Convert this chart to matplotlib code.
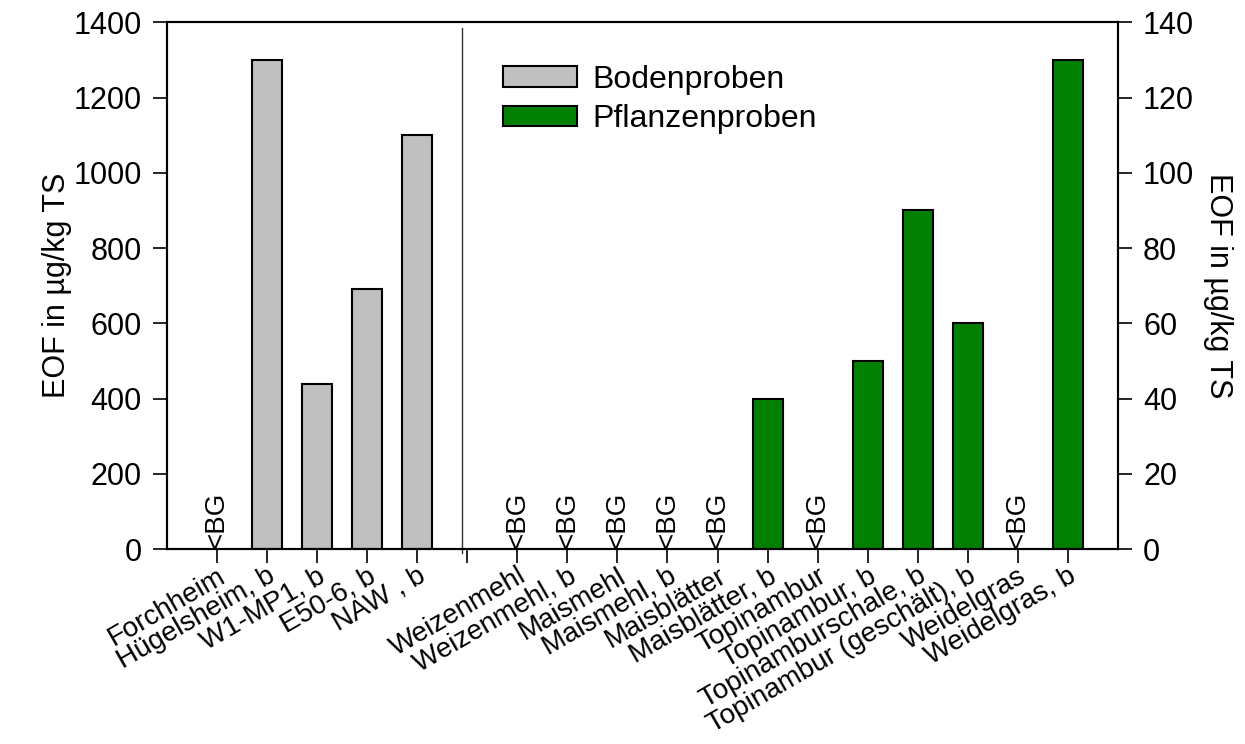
import numpy as np
import matplotlib.pyplot as plt

plt.rcParams['font.family'] = ['Liberation Sans', 'DejaVu Sans']

# Bodenproben (linke Achse) und Pflanzenproben (rechte Achse); None = <BG
boden_namen = ['Forchheim', 'Hügelsheim, b', 'W1-MP1, b', 'E50-6, b', 'NAW , b']
boden_werte = [None, 1300, 440, 690, 1100]

pflanzen_namen = ['Weizenmehl', 'Weizenmehl, b', 'Maismehl', 'Maismehl, b',
                  'Maisblätter', 'Maisblätter, b', 'Topinambur', 'Topinambur, b',
                  'Topinamburschale, b', 'Topinambur (geschält), b',
                  'Weidelgras', 'Weidelgras, b']
pflanzen_werte = [None, None, None, None, None, 40, None, 50, 90, 60, None, 130]

x_boden = np.arange(len(boden_namen))
x_pflanzen = np.arange(len(pflanzen_namen)) + len(boden_namen) + 1

fig = plt.figure(figsize=(12.45, 7.44), dpi=100)
ax = fig.add_axes([0.134, 0.262, 0.764, 0.708])
ax2 = ax.twinx()

def balken(achse, xs, werte, farbe, name):
    hs = [np.nan if w is None else w for w in werte]
    achse.bar(xs, hs, width=0.6, color=farbe, edgecolor='black', linewidth=1.5, label=name)
    for xi, w in zip(xs, werte):
        if w is None:
            achse.text(xi, 0.002 * achse.get_ylim()[1], '<BG',
                       rotation=90, ha='center', va='bottom', fontsize=20)

ax.set_ylim(0, 1400)
ax2.set_ylim(0, 140)
balken(ax, x_boden, boden_werte, '#c0c0c0', 'Bodenproben')
balken(ax2, x_pflanzen, pflanzen_werte, '#008000', 'Pflanzenproben')

ax.set_xlim(-1, 18)
ticks = list(x_boden) + [len(boden_namen)] + list(x_pflanzen)
labels = boden_namen + [''] + pflanzen_namen
ax.set_xticks(ticks)
ax.set_xticklabels(labels, rotation=30, ha='right', rotation_mode='anchor', fontsize=20)

# Trennlinie zwischen Boden- und Pflanzenproben
ax.axvline(4.9, ymin=-0.008, ymax=0.99, color='#333333', linewidth=1, clip_on=False)

ax.set_yticks(np.arange(0, 1401, 200))
ax2.set_yticks(np.arange(0, 141, 20))
ax.tick_params(axis='y', labelsize=22, length=10, width=1.2, direction='out', pad=8)
ax2.tick_params(axis='y', labelsize=22, length=10, width=1.2, direction='out', pad=8)
ax.tick_params(axis='x', length=10, width=1.2, direction='out', pad=0)
for a in (ax, ax2):
    for s in a.spines.values():
        s.set_linewidth(1.5)

ax.set_ylabel('EOF in µg/kg TS', fontsize=22, labelpad=1)
ax2.set_ylabel('EOF in µg/kg TS', fontsize=22, rotation=-90, labelpad=28)

h1, l1 = ax.get_legend_handles_labels()
h2, l2 = ax2.get_legend_handles_labels()
ax2.legend(h1 + h2, l1 + l2, loc='upper left', bbox_to_anchor=(0.337, 0.95),
           frameon=False, fontsize=23, handlelength=2.3, handleheight=0.62,
           handletextpad=0.5, labelspacing=0.3, borderpad=0)

fig.savefig('out.png', dpi=100)
